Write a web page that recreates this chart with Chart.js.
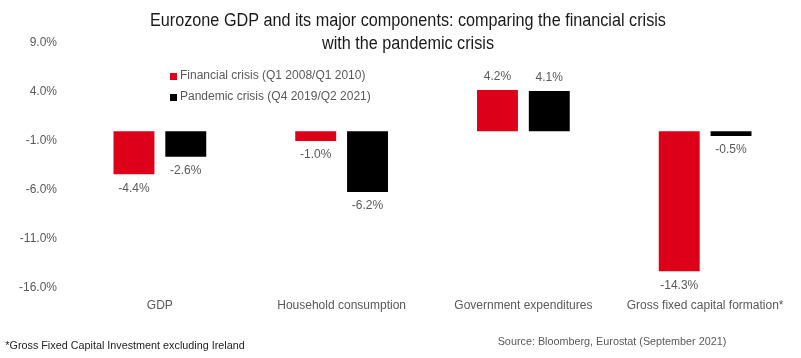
<!DOCTYPE html>
<html>
<head>
<meta charset="utf-8">
<script src="https://cdn.jsdelivr.net/npm/chart.js@4"></script>
<style>
  html, body { margin: 0; padding: 0; background: #fff; }
  #wrap { width: 801px; height: 358px; position: relative; }
</style>
</head>
<body>
<div id="wrap"><canvas id="myChart" width="801" height="358"></canvas></div>
<script>
const categories = [
  "GDP",
  "Household consumption",
  "Government expenditures",
  "Gross fixed capital formation*",
];
const financialCrisis = [-4.4, -1.0, 4.2, -14.3];
const pandemicCrisis = [-2.6, -6.2, 4.1, -0.5];
const seriesNames = [
  "Financial crisis (Q1 2008/Q1 2010)",
  "Pandemic crisis (Q4 2019/Q2 2021)",
];
const yMin = -16;
const yMax = 9;
const yStep = 5;
const titleLines = [
  "Eurozone GDP and its major components: comparing the financial crisis",
  "with the pandemic crisis",
];
const footnote = "*Gross Fixed Capital Investment excluding Ireland";
const source = "Source: Bloomberg, Eurostat (September 2021)";

const red = "#dc0018";
const black = "#000000";
const grey = "#595959";
const font = "'Liberation Sans', Arial, sans-serif";

Chart.defaults.font.family = font;
Chart.defaults.font.size = 12;
Chart.defaults.color = grey;

const ctx = document.getElementById("myChart");

// title, legend, value labels and notes
const extras = {
  id: "extras",
  afterDraw(chart) {
    const c = chart.ctx;
    c.save();
    // title, squeezed a bit to look like the condensed face of the original
    c.fillStyle = "#1a1a1a";
    c.font = "18px " + font;
    c.textAlign = "center";
    c.textBaseline = "middle";
    c.save();
    c.translate(408, 0);
    c.scale(0.9, 1);
    c.fillText(titleLines[0], 0, 21);
    c.fillText(titleLines[1], 0, 44);
    c.restore();

    // legend
    c.font = "12px " + font;
    c.textAlign = "left";
    chart.data.datasets.forEach((ds, i) => {
      const y = 76 + i * 21;
      c.fillStyle = ds.backgroundColor;
      c.fillRect(170, y - 3, 7, 7);
      c.fillStyle = grey;
      c.fillText(ds.label, 180, y);
    });

    // value labels
    c.textAlign = "center";
    chart.data.datasets.forEach((ds, i) => {
      chart.getDatasetMeta(i).data.forEach((bar, j) => {
        const v = ds.data[j];
        const y = v >= 0 ? bar.y - 13 : bar.y + 14;
        c.fillStyle = grey;
        c.fillText(v.toFixed(1) + "%", bar.x, y);
      });
    });

    // notes
    c.font = "10.8px " + font;
    c.fillStyle = "#222";
    c.fillText(footnote, 125, 346);
    c.fillStyle = grey;
    c.fillText(source, 612, 342);
    c.restore();
  },
};

new Chart(ctx, {
  type: "bar",
  data: {
    labels: categories,
    datasets: [
      { label: seriesNames[0], data: financialCrisis, backgroundColor: red },
      { label: seriesNames[1], data: pandemicCrisis, backgroundColor: black },
    ],
  },
  options: {
    responsive: false,
    animation: false,
    events: [],
    categoryPercentage: 0.57,
    barPercentage: 0.79,
    layout: { padding: { top: 43, right: 5, bottom: 0, left: 0 } },
    plugins: {
      legend: { display: false },
      title: { display: false },
      tooltip: { enabled: false },
    },
    scales: {
      x: {
        grid: { display: false, drawTicks: false },
        border: { display: false },
        ticks: { color: grey, padding: 10, maxRotation: 0, autoSkip: false },
        afterFit(scale) {
          scale.height = 70;
        },
      },
      y: {
        min: yMin,
        max: yMax,
        grid: { display: false, drawTicks: false },
        border: { display: false },
        ticks: {
          stepSize: yStep,
          color: grey,
          padding: 12,
          callback: (v) => v.toFixed(1) + "%",
        },
        afterFit(scale) {
          scale.width = 69;
        },
      },
    },
  },
  plugins: [extras],
});
</script>
</body>
</html>
